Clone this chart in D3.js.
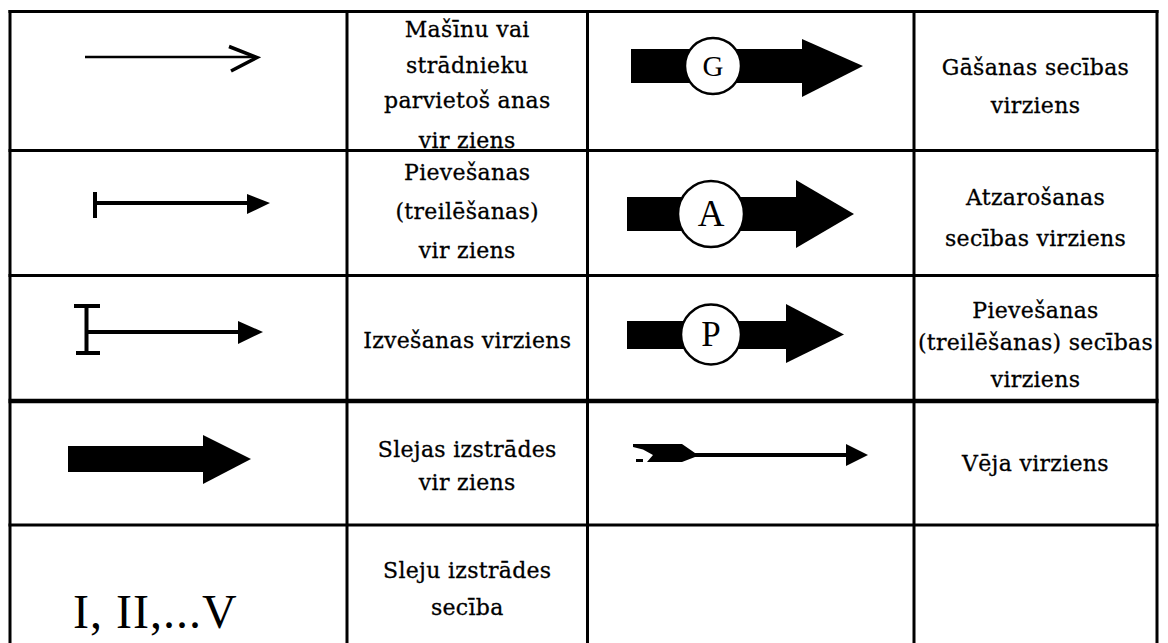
<!DOCTYPE html>
<html>
<head>
<meta charset="utf-8">
<script src="https://cdn.jsdelivr.net/npm/d3@7"></script>
<style>
  html, body { margin: 0; padding: 0; background: #fff; }
  svg { display: block; }
</style>
</head>
<body>
<svg id="chart" width="1168" height="643"></svg>
<script>
// ---------- DATA ----------
const rowIds = ["r1", "r2", "r3", "r4", "r5"];
const symbolKinds = ["openArrow", "tailBarArrow", "iBeamArrow", "thickArrow", "romanOrder"];
const symbolLabels = [
  ["Mašīnu vai", "strādnieku", "parvietoš anas", "vir ziens"],
  ["Pievešanas", "(treilēšanas)", "vir ziens"],
  ["Izvešanas virziens"],
  ["Slejas izstrādes", "vir ziens"],
  ["Sleju izstrādes", "secība"]
];
const orderKinds = ["circleArrow", "circleArrow", "circleArrow", "windArrow", "none"];
const orderLetters = ["G", "A", "P", "", ""];
const orderLabels = [
  ["Gāšanas secības", "virziens"],
  ["Atzarošanas", "secības virziens"],
  ["Pievešanas", "(treilēšanas) secības", "virziens"],
  ["Vēja virziens"],
  []
];
const romanText = "I, II,...V";

// ---------- LAYOUT ----------
const W = 1168, H = 643;
const colEdges = [10, 347, 587.5, 914, 1157];
const rowEdges = [11.5, 150.5, 275.5, 401, 525, 643];
const rowLineWidths = [3, 3, 3, 4.5, 3];
const col2Baselines = [[37, 73, 108, 148], [180, 219, 258], [348], [457, 490], [578, 615]];
const col4Baselines = [[75, 113], [205, 246], [318, 350, 387], [471], []];

const svg = d3.select("#chart");
const xCenter = i => (colEdges[i] + colEdges[i + 1]) / 2;
const rowScale = d3.scaleOrdinal().domain(rowIds).range(rowEdges.slice(0, 5));

const textFont = "'DejaVu Serif', serif";

// text columns
function drawLabels(colIdx, labels, baselines) {
  labels.forEach((lines, r) => {
    lines.forEach((t, k) => {
      svg.append("text")
        .attr("x", xCenter(colIdx))
        .attr("y", baselines[r][k])
        .attr("text-anchor", "middle")
        .attr("font-family", textFont)
        .attr("font-size", 22)
        .attr("letter-spacing", 0.3)
        .attr("fill", "#000")
        .attr("stroke", "#000")
        .attr("stroke-width", 0.3)
        .text(t);
    });
  });
}
drawLabels(1, symbolLabels, col2Baselines);
drawLabels(3, orderLabels, col4Baselines);

// ---------- SYMBOLS column 1 ----------
symbolKinds.forEach((kind, r) => {
  const g = svg.append("g")
    .attr("transform", `translate(${colEdges[0]},${rowScale(rowIds[r])})`);
  if (kind === "openArrow") {
    g.append("line").attr("x1", 75).attr("x2", 246).attr("y1", 45.5).attr("y2", 45.5)
      .attr("stroke", "#000").attr("stroke-width", 2.5);
    g.append("polyline").attr("points", "219,35 247,46 221,59.5")
      .attr("fill", "none").attr("stroke", "#000").attr("stroke-width", 3.5);
  } else if (kind === "tailBarArrow") {
    g.append("rect").attr("x", 83).attr("y", 41.5).attr("width", 4).attr("height", 26).attr("fill", "#000");
    g.append("line").attr("x1", 85).attr("x2", 238).attr("y1", 52.5).attr("y2", 52.5)
      .attr("stroke", "#000").attr("stroke-width", 4);
    g.append("polygon").attr("points", "237,43.5 260,52.5 237,63.5").attr("fill", "#000");
  } else if (kind === "iBeamArrow") {
    g.append("rect").attr("x", 74.5).attr("y", 30.5).attr("width", 4).attr("height", 49).attr("fill", "#000");
    g.append("rect").attr("x", 64).attr("y", 28.5).attr("width", 26).attr("height", 4).attr("fill", "#000");
    g.append("rect").attr("x", 66).attr("y", 75.5).attr("width", 24).attr("height", 4).attr("fill", "#000");
    g.append("line").attr("x1", 76).attr("x2", 230).attr("y1", 56.5).attr("y2", 56.5)
      .attr("stroke", "#000").attr("stroke-width", 4);
    g.append("polygon").attr("points", "228,45.5 253,56.5 228,68.5").attr("fill", "#000");
  } else if (kind === "thickArrow") {
    g.append("rect").attr("x", 58).attr("y", 45).attr("width", 137).attr("height", 26).attr("fill", "#000");
    g.append("polygon").attr("points", "193,34 241,58 193,83").attr("fill", "#000");
  } else if (kind === "romanOrder") {
    g.append("text").attr("x", 63).attr("y", 103)
      .attr("font-family", "'Liberation Serif', 'Times New Roman', serif")
      .attr("font-size", 48).attr("letter-spacing", 1).attr("fill", "#000").text(romanText);
  }
});

// ---------- SYMBOLS column 3 ----------
const circleGeom = [
  { rx: 43.5, ry: 37.5, rw: 171, rh: 34, hx: 214.5, hTop: 27.5, hTip: 275.5, hBot: 85.5, cy: 54.5, cx: 125.5, r: 28, fs: 29 },
  { rx: 39.5, ry: 46.5, rw: 169, rh: 34, hx: 208.5, hTop: 29.5, hTip: 266.5, hBot: 97.5, cy: 63.5, cx: 123.5, r: 33, fs: 37 },
  { rx: 39.5, ry: 45.5, rw: 159, rh: 28, hx: 198.5, hTop: 28.5, hTip: 256.5, hBot: 87.5, cy: 59, cx: 123.5, r: 30, fs: 35 }
];
orderKinds.forEach((kind, r) => {
  const g = svg.append("g")
    .attr("transform", `translate(${colEdges[2]},${rowScale(rowIds[r])})`);
  if (kind === "circleArrow") {
    const c = circleGeom[r];
    g.append("rect").attr("x", c.rx).attr("y", c.ry).attr("width", c.rw).attr("height", c.rh).attr("fill", "#000");
    g.append("polygon").attr("points", `${c.hx},${c.hTop} ${c.hTip},${c.cy} ${c.hx},${c.hBot}`).attr("fill", "#000");
    g.append("circle").attr("cx", c.cx).attr("cy", c.cy).attr("r", c.r)
      .attr("fill", "#fff").attr("stroke", "#000").attr("stroke-width", 2.5);
    g.append("text").attr("x", c.cx).attr("y", c.cy + c.fs * 0.33)
      .attr("text-anchor", "middle")
      .attr("font-family", "'Liberation Serif', 'Times New Roman', serif")
      .attr("font-size", c.fs).attr("fill", "#000").text(orderLetters[r]);
  } else if (kind === "windArrow") {
    g.append("line").attr("x1", 105).attr("x2", 260).attr("y1", 54).attr("y2", 54)
      .attr("stroke", "#000").attr("stroke-width", 4);
    g.append("polygon").attr("points", "258.5,43 280.5,54 258.5,65").attr("fill", "#000");
    g.append("polygon")
      .attr("points", "45.5,43 94.5,43 107.5,52 107.5,56 94.5,61 59.5,61 65.5,54 55.5,48.5 45.5,46")
      .attr("fill", "#000");
    g.append("rect").attr("x", 48.5).attr("y", 58).attr("width", 7).attr("height", 3).attr("fill", "#000");
  }
});

// ---------- GRID ----------
const grid = svg.append("g");
rowEdges.slice(0, 5).forEach((y, i) => {
  grid.append("line").attr("x1", colEdges[0] - 1.5).attr("x2", colEdges[4] + 1.5)
    .attr("y1", y).attr("y2", y)
    .attr("stroke", "#000").attr("stroke-width", rowLineWidths[i]);
});
colEdges.forEach(x => {
  grid.append("line").attr("x1", x).attr("x2", x)
    .attr("y1", rowEdges[0] - 1.5).attr("y2", H)
    .attr("stroke", "#000").attr("stroke-width", 3);
});
</script>
</body>
</html>
